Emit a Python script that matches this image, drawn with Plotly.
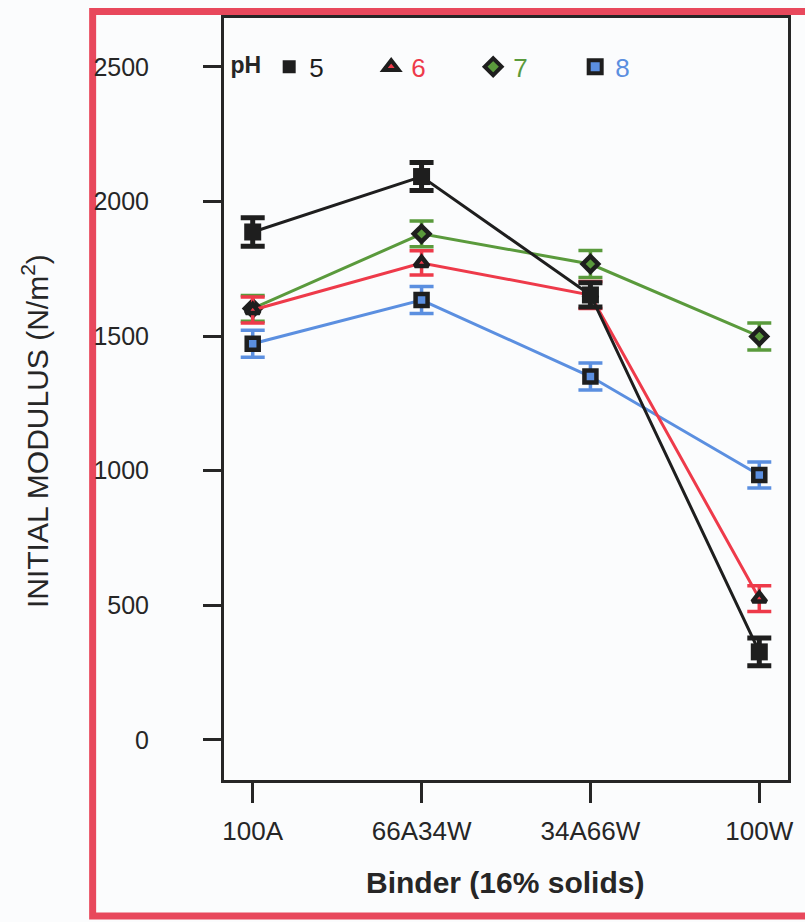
import plotly.graph_objects as go

binders = ["100A", "66A34W", "34A66W", "100W"]
ph_labels = ["5", "6", "7", "8"]
ph5 = [1887, 2093, 1653, 327]
ph5_err = [53, 52, 45, 52]
ph6 = [1597, 1772, 1653, 525]
ph6_err = [48, 45, 50, 48]
ph7 = [1603, 1880, 1768, 1499]
ph7_err = [48, 48, 50, 50]
ph8 = [1472, 1634, 1350, 984]
ph8_err = [50, 50, 50, 48]

series = {"5": (ph5, ph5_err), "6": (ph6, ph6_err), "7": (ph7, ph7_err), "8": (ph8, ph8_err)}
colors = {"5": "#1e1e1e", "6": "#ee3a4a", "7": "#5a9a3c", "8": "#5b8fe0"}
symbols = {"5": "square", "6": "triangle-up", "7": "diamond", "8": "square"}
FONT = "Liberation Sans, Arial, sans-serif"
INK = "#262626"

fig = go.Figure()
draw_order = ["8", "7", "6", "5"]
for ph in draw_order:
    vals, errs = series[ph]
    is_black = ph == "5"
    fig.add_trace(go.Scatter(
        x=binders, y=vals, mode="lines+markers",
        line=dict(color=colors[ph], width=3),
        marker=dict(symbol=symbols[ph], size=17 if is_black else 12,
                    color=colors[ph] if not is_black else "#1e1e1e",
                    line=dict(color="#1e1e1e", width=0 if is_black else 4.5)),
        error_y=dict(type="data", array=errs, visible=True,
                     color=colors[ph], thickness=5 if is_black else 3.5, width=12),
        showlegend=False, hoverinfo="skip",
    ))

for ph in ph_labels:
    is_black = ph == "5"
    fig.add_trace(go.Scatter(
        x=[None], y=[None], mode="markers",
        name=f"<span style='color:{colors[ph]}'>{ph}</span>",
        marker=dict(symbol=symbols[ph], size=13,
                    color=colors[ph] if not is_black else "#1e1e1e",
                    line=dict(color="#1e1e1e", width=0 if is_black else 4)),
        showlegend=True,
    ))

fig.update_layout(
    width=805, height=922,
    margin=dict(l=224, r=12, t=18, b=142),
    paper_bgcolor="#fbfcfd", plot_bgcolor="#fbfcfd",
    font=dict(family=FONT, size=25, color=INK),
    showlegend=True,
    legend=dict(
        orientation="h", x=0.008, xanchor="left", y=0.936, yanchor="middle",
        bgcolor="rgba(0,0,0,0)", font=dict(size=26, color=INK),
        title=dict(text="<b>pH</b>", side="left", font=dict(size=23, color=INK)),
        entrywidth=57, entrywidthmode="pixels", itemwidth=30,
    ),
    xaxis=dict(
        type="category", range=[-0.17, 3.17],
        showline=True, linecolor=INK, linewidth=3, mirror=True,
        ticks="outside", ticklen=20, tickwidth=3, tickcolor=INK,
        tickfont=dict(size=26, color=INK), showgrid=False, zeroline=False,
        ticklabelstandoff=6,
    ),
    yaxis=dict(
        range=[-149, 2682], tickvals=[0, 500, 1000, 1500, 2000, 2500],
        showline=True, linecolor=INK, linewidth=3, mirror=True,
        ticks="outside", ticklen=18, tickwidth=3, tickcolor=INK,
        tickfont=dict(size=25, color=INK), showgrid=False, zeroline=False,
        ticklabelstandoff=49,
    ),
    annotations=[
        dict(text="INITIAL MODULUS (N/m<sup>2</sup>)", textangle=-90,
             xref="paper", yref="paper", x=-0.335, y=0.458,
             xanchor="center", yanchor="middle", showarrow=False,
             font=dict(size=30, color=INK, family=FONT)),
        dict(text="<b>Binder (16% solids)</b>",
             xref="paper", yref="paper", x=0.499, y=-0.135,
             xanchor="center", yanchor="middle", showarrow=False,
             font=dict(size=30, color=INK, family=FONT)),
    ],
    shapes=[
        dict(type="rect", xref="paper", yref="paper",
             x0=-0.2329, x1=1.06, y0=-0.1785, y1=1.0085,
             line=dict(color="#e8485c", width=7), fillcolor="rgba(0,0,0,0)",
             layer="below"),
    ],
)

fig.write_html("out.html")
